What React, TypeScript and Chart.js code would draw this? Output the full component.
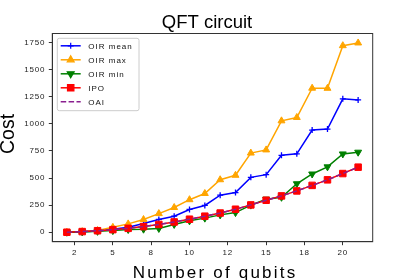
import React, { useEffect, useRef } from 'react';
import { Chart, registerables } from 'chart.js';

Chart.register(...registerables);

const qubits = [2, 3, 4, 5, 6, 7, 8, 9, 10, 11, 12, 13, 14, 15, 16, 17, 18, 19, 20, 21];
const oirMean = [0, 4, 12, 28, 46, 80, 118, 148, 210, 247, 342, 366, 506, 531, 709, 723, 942, 951, 1230, 1220];
const oirMax = [0, 6, 16, 45, 77, 117, 172, 228, 300, 357, 484, 525, 730, 759, 1027, 1058, 1328, 1327, 1720, 1745];
const oirMin = [0, 3, 8, 15, 25, 28, 35, 72, 105, 130, 160, 181, 250, 305, 322, 447, 537, 603, 722, 738];
const ipo = [0, 6, 14, 24, 36, 52, 72, 95, 120, 148, 177, 212, 252, 295, 335, 381, 432, 483, 541, 600];
const oai = [0, 6, 14, 24, 36, 52, 72, 95, 120, 148, 177, 212, 252, 295, 335, 381, 432, 483, 541, 600];

const seriesNames = ['OIR mean', 'OIR max', 'OIR min', 'IPO', 'OAI'];
const xTickValues = [2.5, 5, 7.5, 10, 12.5, 15, 17.5, 20];
const xTickLabels = ['2', '5', '8', '10', '12', '15', '18', '20'];
const yTickValues = [0, 250, 500, 750, 1000, 1250, 1500, 1750];

const FONT = "'Liberation Sans', Arial, sans-serif";
const COLORS = ['#0000ff', '#ffa500', '#008000', '#ff0000', '#8a1f8f'];

function toPoints(arr: number[]) {
  return arr.map((v, i) => ({ x: qubits[i], y: v }));
}

function drawMarker(ctx: CanvasRenderingContext2D, kind: string, x: number, y: number, color: string) {
  ctx.save();
  ctx.fillStyle = color;
  ctx.strokeStyle = color;
  ctx.lineWidth = 1.2;
  ctx.beginPath();
  if (kind === 'cross') {
    ctx.moveTo(x - 3, y); ctx.lineTo(x + 3, y);
    ctx.moveTo(x, y - 3); ctx.lineTo(x, y + 3);
    ctx.stroke();
  } else if (kind === 'tri') {
    const r = 4;
    ctx.moveTo(x, y - r);
    ctx.lineTo(x + r * 0.866, y + r * 0.5);
    ctx.lineTo(x - r * 0.866, y + r * 0.5);
    ctx.closePath(); ctx.fill(); ctx.stroke();
  } else if (kind === 'tridown') {
    const r = 4;
    ctx.moveTo(x, y + r);
    ctx.lineTo(x + r * 0.866, y - r * 0.5);
    ctx.lineTo(x - r * 0.866, y - r * 0.5);
    ctx.closePath(); ctx.fill(); ctx.stroke();
  } else if (kind === 'rect') {
    ctx.rect(x - 3.2, y - 3.2, 6.4, 6.4);
    ctx.fill(); ctx.stroke();
  }
  ctx.restore();
}

const framePlugin = {
  id: 'frameAndText',
  beforeDraw(chart: any) {
    const ctx = chart.ctx as CanvasRenderingContext2D;
    (ctx as any).letterSpacing = '0.8px';
  },
  afterDraw(chart: any) {
    const ctx = chart.ctx as CanvasRenderingContext2D;
    const a = chart.chartArea;
    ctx.save();
    (ctx as any).letterSpacing = '0px';
    ctx.strokeStyle = '#333';
    ctx.lineWidth = 1;
    ctx.strokeRect(a.left, a.top, a.right - a.left, a.bottom - a.top);

    // Title
    ctx.fillStyle = '#000';
    ctx.textAlign = 'center';
    ctx.textBaseline = 'alphabetic';
    ctx.font = `18.5px ${FONT}`;
    ctx.fillText('QFT circuit', 207, 28.3);

    // X label
    (ctx as any).letterSpacing = '2.2px';
    ctx.font = `17px ${FONT}`;
    ctx.fillText('Number of qubits', 215, 277.5);

    // Y label
    (ctx as any).letterSpacing = '0px';
    ctx.save();
    ctx.translate(14, 134);
    ctx.rotate(-Math.PI / 2);
    ctx.font = `19.5px ${FONT}`;
    ctx.fillText('Cost', 0, 0);
    ctx.restore();

    // Legend
    const bx = 57.3, by = 38.3, bw = 81.7, bh = 72.4;
    ctx.fillStyle = 'rgba(255,255,255,0.8)';
    ctx.strokeStyle = '#cccccc';
    ctx.lineWidth = 1;
    ctx.beginPath();
    (ctx as any).roundRect(bx, by, bw, bh, 2);
    ctx.fill();
    ctx.stroke();
    const kinds = ['cross', 'tri', 'tridown', 'rect', 'none'];
    for (let i = 0; i < seriesNames.length; i++) {
      const y = 45.8 + i * 14;
      ctx.strokeStyle = COLORS[i];
      ctx.lineWidth = 1.5;
      ctx.setLineDash(i === 4 ? [5.5, 2.4] : []);
      ctx.beginPath();
      ctx.moveTo(60.7, y);
      ctx.lineTo(80.7, y);
      ctx.stroke();
      ctx.setLineDash([]);
      drawMarker(ctx, kinds[i], 70.7, y, COLORS[i]);
      ctx.fillStyle = '#111';
      ctx.textAlign = 'left';
      ctx.textBaseline = 'middle';
      (ctx as any).letterSpacing = '1px';
      ctx.font = `8px ${FONT}`;
      ctx.fillText(seriesNames[i], 88.3, y + 0.5);
      (ctx as any).letterSpacing = '0px';
    }
    ctx.restore();
  },
};

export default function App() {
  const ref = useRef<HTMLCanvasElement | null>(null);
  useEffect(() => {
    if (!ref.current) return;
    const tickFont = { family: FONT, size: 8 };
    const chart = new Chart(ref.current, {
      type: 'line',
      data: {
        datasets: [
          {
            label: seriesNames[0], data: toPoints(oirMean), borderColor: COLORS[0], backgroundColor: COLORS[0],
            borderWidth: 1.5, pointStyle: 'cross', pointRadius: 3, pointBorderWidth: 1.3, order: 5,
          },
          {
            label: seriesNames[1], data: toPoints(oirMax), borderColor: COLORS[1], backgroundColor: COLORS[1],
            borderWidth: 1.5, pointStyle: 'triangle', pointRadius: 4, pointBorderWidth: 1, order: 4,
          },
          {
            label: seriesNames[2], data: toPoints(oirMin), borderColor: COLORS[2], backgroundColor: COLORS[2],
            borderWidth: 1.5, pointStyle: 'triangle', pointRotation: 180, pointRadius: 4, pointBorderWidth: 1, order: 3,
          },
          {
            label: seriesNames[3], data: toPoints(ipo), borderColor: COLORS[3], backgroundColor: COLORS[3],
            borderWidth: 1.5, pointStyle: 'rect', pointRadius: 4.6, pointBorderWidth: 1, order: 2,
          },
          {
            label: seriesNames[4], data: toPoints(oai), borderColor: COLORS[4], backgroundColor: COLORS[4],
            borderWidth: 1.5, borderDash: [5.5, 2.4], pointRadius: 0, order: 1,
          },
        ],
      },
      options: {
        animation: false,
        responsive: false,
        maintainAspectRatio: false,
        layout: { padding: { left: 0, right: 42.3, top: 33.5, bottom: 0 } },
        plugins: {
          legend: { display: false },
          tooltip: { enabled: false },
          title: { display: false },
        },
        scales: {
          x: {
            type: 'linear',
            min: 1.05,
            max: 21.95,
            afterBuildTicks: (s: any) => { s.ticks = xTickValues.map((v) => ({ value: v })); },
            afterFit: (s: any) => { s.height = 38.3; },
            ticks: {
              autoSkip: false, maxRotation: 0, minRotation: 0, font: tickFont, color: '#222', padding: 2.5,
              callback: (_v: any, i: number) => xTickLabels[i],
            },
            grid: { display: true, drawOnChartArea: false, drawTicks: true, tickLength: 3.5, color: '#333', lineWidth: 1 },
            border: { display: true, color: '#333', width: 1 },
          },
          y: {
            type: 'linear',
            min: -87.25,
            max: 1832.25,
            afterBuildTicks: (s: any) => { s.ticks = yTickValues.map((v) => ({ value: v })); },
            afterFit: (s: any) => { s.width = 52.3; },
            ticks: {
              autoSkip: false, font: tickFont, color: '#222', padding: 3.5,
              callback: (v: any) => String(v),
            },
            grid: { display: true, drawOnChartArea: false, drawTicks: true, tickLength: 3.5, color: '#333', lineWidth: 1 },
            border: { display: true, color: '#333', width: 1 },
          },
        },
      } as any,
      plugins: [framePlugin],
    });
    return () => chart.destroy();
  }, []);
  return (
    <div style={{ position: 'absolute', left: 0, top: 0, width: 415, height: 280, background: '#fff' }}>
      <canvas ref={ref} width={415} height={280} style={{ width: 415, height: 280, display: 'block' }} />
    </div>
  );
}
